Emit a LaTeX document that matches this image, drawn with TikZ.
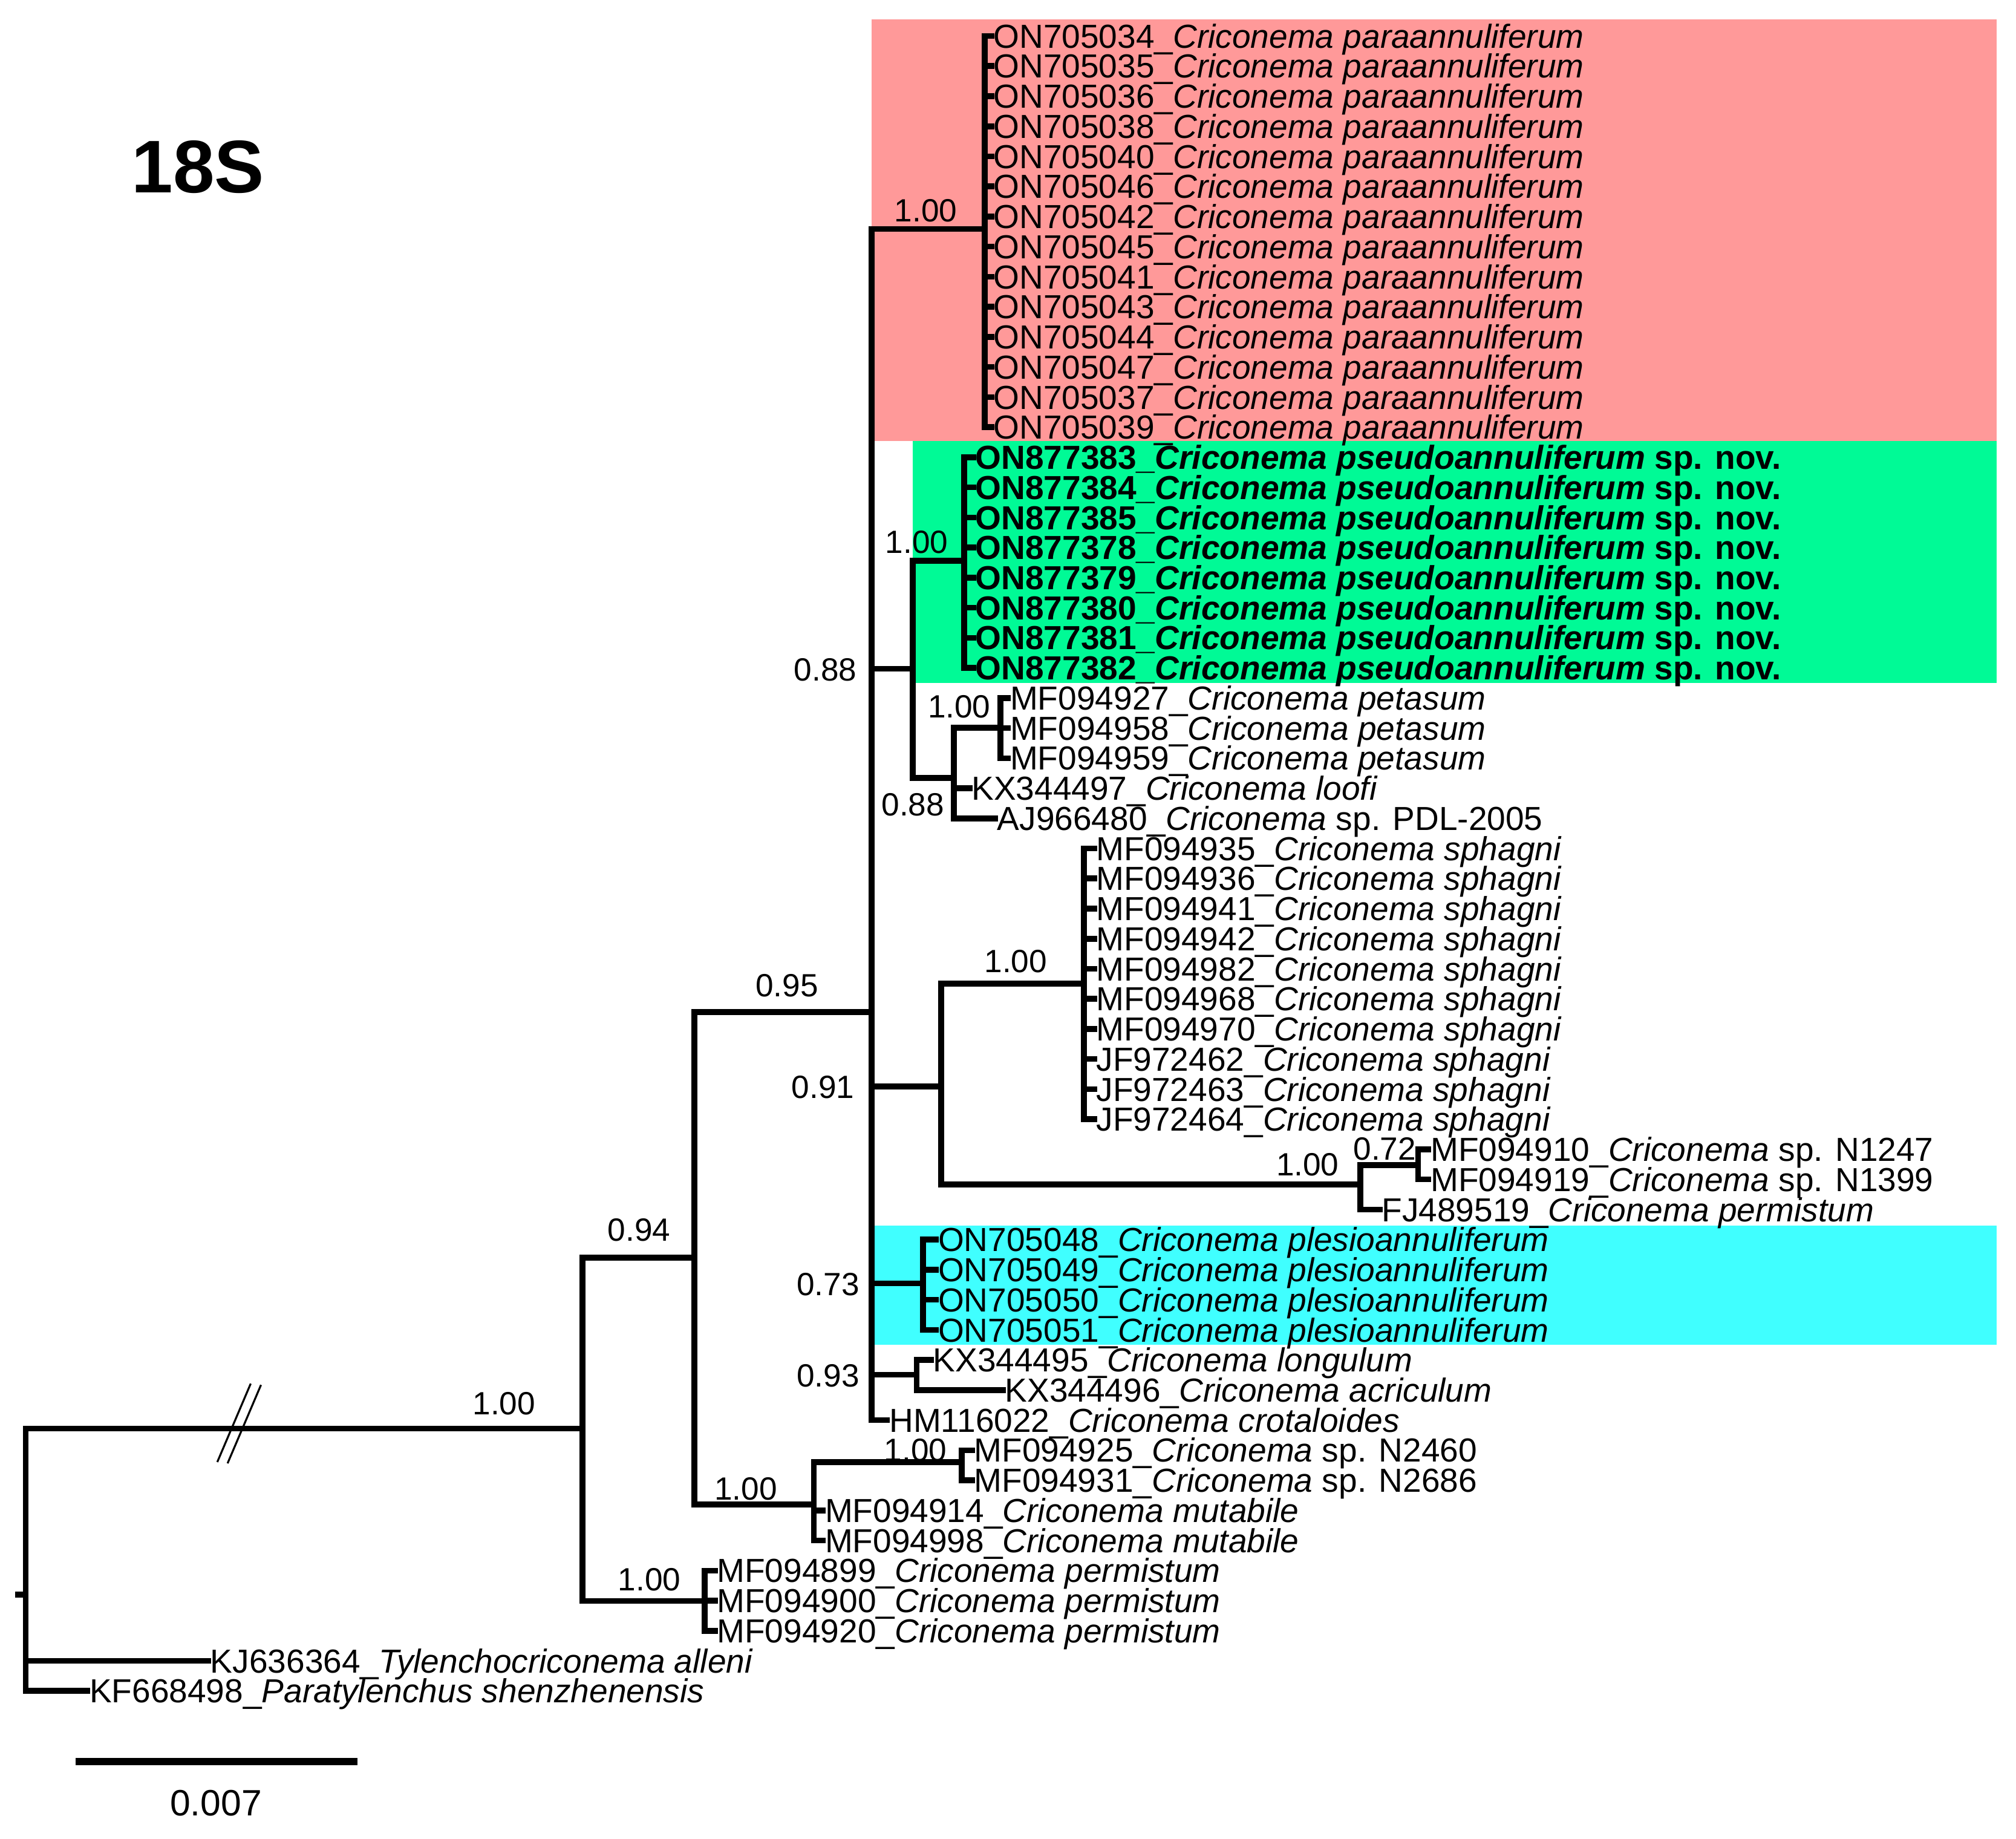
\documentclass[tikz,border=0pt]{standalone}
\usepackage{fontspec}
\setmainfont{Liberation Sans}
\definecolor{pinkbox}{RGB}{255,153,153}
\definecolor{greenbox}{RGB}{0,250,150}
\definecolor{cyanbox}{RGB}{64,255,255}
\newcommand{\tipfont}{\fontsize{25.9}{30}\selectfont}
\newcommand{\suppfont}{\fontsize{25}{30}\selectfont}
\newcommand{\tipl}[5]{%
  \coordinate (#1) at (#3,{28+23.4*#4});
  \draw[br] (#2) |- (#1);
  \node[tiplab] (#1l) at (#1) {#5};
}
\newcommand{\Cp}{\textit{Criconema paraannuliferum}}
\newcommand{\Cps}{\textit{Criconema pseudoannuliferum} sp. nov.}
\newcommand{\Cpl}{\textit{Criconema plesioannuliferum}}
\newcommand{\Csph}{\textit{Criconema sphagni}}
\newcommand{\Cpet}{\textit{Criconema petasum}}
\newcommand{\Cper}{\textit{Criconema permistum}}
\newcommand{\Cmut}{\textit{Criconema mutabile}}
\begin{document}
\begin{tikzpicture}[x=1pt,y=-1pt,
  br/.style={line width=4.5pt,line cap=rect},
  tiplab/.style={anchor=west,inner xsep=1.5pt,inner ysep=0pt,text height=18.5pt,text depth=0pt,font=\tipfont},
  supp/.style={anchor=center,inner sep=0pt,text height=18.5pt,text depth=0pt,font=\suppfont}]
\useasboundingbox (0,0) rectangle (1568,1430);
% highlight boxes
\fill[pinkbox] (678,15) rectangle (1553,343);
\fill[greenbox] (710,343) rectangle (1553,531);
\fill[cyanbox] (678,953) rectangle (1553,1046);
% title
\node[font=\fontsize{58}{60}\selectfont\bfseries] (title) at (154,130) {18S};
% internal nodes
\coordinate (R0) at (14,1240);
\coordinate (R) at (20,1240);
\coordinate (nA) at (453,1111);
\coordinate (nB) at (540,978);
\coordinate (nC) at (678,787);
\coordinate (nPink) at (766,178);
\coordinate (nGP) at (710,520);
\coordinate (nGreen) at (750,436);
\coordinate (nPL) at (742,605);
\coordinate (nPet) at (778,566);
\coordinate (nSN) at (732,845);
\coordinate (nSph) at (843,765);
\coordinate (nN) at (1058,921);
\coordinate (nN2) at (1103,906);
\coordinate (nPles) at (718,998);
\coordinate (nLong) at (713,1069);
\coordinate (nMut) at (633,1170);
\coordinate (nNN) at (748,1137);
\coordinate (nPerm) at (548,1245);
% internal branches
\draw[br] (R0) -- (R);
\draw[br] (R) |- (nA);
\draw[br] (nA) |- (nB);
\draw[br] (nA) |- (nPerm);
\draw[br] (nB) |- (nC);
\draw[br] (nB) |- (nMut);
\draw[br] (nC) |- (nPink);
\draw[br] (nC) |- (nGP);
\draw[br] (nC) |- (nSN);
\draw[br] (nC) |- (nPles);
\draw[br] (nC) |- (nLong);
\draw[br] (nGP) |- (nGreen);
\draw[br] (nGP) |- (nPL);
\draw[br] (nPL) |- (nPet);
\draw[br] (nSN) |- (nSph);
\draw[br] (nSN) |- (nN);
\draw[br] (nN) |- (nN2);
\draw[br] (nMut) |- (nNN);
% tips
\tipl{t0}{nPink}{771}{0}{ON705034\_\Cp}
\tipl{t1}{nPink}{771}{1}{ON705035\_\Cp}
\tipl{t2}{nPink}{771}{2}{ON705036\_\Cp}
\tipl{t3}{nPink}{771}{3}{ON705038\_\Cp}
\tipl{t4}{nPink}{771}{4}{ON705040\_\Cp}
\tipl{t5}{nPink}{771}{5}{ON705046\_\Cp}
\tipl{t6}{nPink}{771}{6}{ON705042\_\Cp}
\tipl{t7}{nPink}{771}{7}{ON705045\_\Cp}
\tipl{t8}{nPink}{771}{8}{ON705041\_\Cp}
\tipl{t9}{nPink}{771}{9}{ON705043\_\Cp}
\tipl{t10}{nPink}{771}{10}{ON705044\_\Cp}
\tipl{t11}{nPink}{771}{11}{ON705047\_\Cp}
\tipl{t12}{nPink}{771}{12}{ON705037\_\Cp}
\tipl{t13}{nPink}{771}{13}{ON705039\_\Cp}
\tipl{t14}{nGreen}{757}{14}{\textbf{ON877383\_\Cps}}
\tipl{t15}{nGreen}{757}{15}{\textbf{ON877384\_\Cps}}
\tipl{t16}{nGreen}{757}{16}{\textbf{ON877385\_\Cps}}
\tipl{t17}{nGreen}{757}{17}{\textbf{ON877378\_\Cps}}
\tipl{t18}{nGreen}{757}{18}{\textbf{ON877379\_\Cps}}
\tipl{t19}{nGreen}{757}{19}{\textbf{ON877380\_\Cps}}
\tipl{t20}{nGreen}{757}{20}{\textbf{ON877381\_\Cps}}
\tipl{t21}{nGreen}{757}{21}{\textbf{ON877382\_\Cps}}
\tipl{t22}{nPet}{784}{22}{MF094927\_\Cpet}
\tipl{t23}{nPet}{784}{23}{MF094958\_\Cpet}
\tipl{t24}{nPet}{784}{24}{MF094959\_\Cpet}
\tipl{t25}{nPL}{754}{25}{KX344497\_\textit{Criconema loofi}}
\tipl{t26}{nPL}{774}{26}{AJ966480\_\textit{Criconema} sp. PDL-2005}
\tipl{t27}{nSph}{851}{27}{MF094935\_\Csph}
\tipl{t28}{nSph}{851}{28}{MF094936\_\Csph}
\tipl{t29}{nSph}{851}{29}{MF094941\_\Csph}
\tipl{t30}{nSph}{851}{30}{MF094942\_\Csph}
\tipl{t31}{nSph}{851}{31}{MF094982\_\Csph}
\tipl{t32}{nSph}{851}{32}{MF094968\_\Csph}
\tipl{t33}{nSph}{851}{33}{MF094970\_\Csph}
\tipl{t34}{nSph}{851}{34}{JF972462\_\Csph}
\tipl{t35}{nSph}{851}{35}{JF972463\_\Csph}
\tipl{t36}{nSph}{851}{36}{JF972464\_\Csph}
\tipl{t37}{nN2}{1111}{37}{MF094910\_\textit{Criconema} sp. N1247}
\tipl{t38}{nN2}{1111}{38}{MF094919\_\textit{Criconema} sp. N1399}
\tipl{t39}{nN}{1073}{39}{FJ489519\_\Cper}
\tipl{t40}{nPles}{728}{40}{ON705048\_\Cpl}
\tipl{t41}{nPles}{728}{41}{ON705049\_\Cpl}
\tipl{t42}{nPles}{728}{42}{ON705050\_\Cpl}
\tipl{t43}{nPles}{728}{43}{ON705051\_\Cpl}
\tipl{t44}{nLong}{724}{44}{KX344495\_\textit{Criconema longulum}}
\tipl{t45}{nLong}{780}{45}{KX344496\_\textit{Criconema acriculum}}
\tipl{t46}{nC}{690}{46}{HM116022\_\textit{Criconema crotaloides}}
\tipl{t47}{nNN}{756}{47}{MF094925\_\textit{Criconema} sp. N2460}
\tipl{t48}{nNN}{756}{48}{MF094931\_\textit{Criconema} sp. N2686}
\tipl{t49}{nMut}{640}{49}{MF094914\_\Cmut}
\tipl{t50}{nMut}{640}{50}{MF094998\_\Cmut}
\tipl{t51}{nPerm}{556}{51}{MF094899\_\Cper}
\tipl{t52}{nPerm}{556}{52}{MF094900\_\Cper}
\tipl{t53}{nPerm}{556}{53}{MF094920\_\Cper}
\tipl{t54}{R}{162}{54}{KJ636364\_\textit{Tylenchocriconema alleni}}
\tipl{t55}{R}{68}{55}{KF668498\_\textit{Paratylenchus shenzhenensis}}
% support values
\node[supp] (sPink) at (720,163) {1.00};
\node[supp] (sGreen) at (713,421) {1.00};
\node[supp] (sGP) at (642,520) {0.88};
\node[supp] (sPL) at (710,625) {0.88};
\node[supp] (sPet) at (746,549) {1.00};
\node[supp] (sC) at (612,766) {0.95};
\node[supp] (sSN) at (640,845) {0.91};
\node[supp] (sSph) at (790,747) {1.00};
\node[supp] (sN) at (1017,905) {1.00};
\node[supp] (sN2) at (1077,893) {0.72};
\node[supp] (sPles) at (644,998) {0.73};
\node[supp] (sLong) at (644,1069) {0.93};
\node[supp] (sB) at (497,956) {0.94};
\node[supp] (sA) at (392,1091) {1.00};
\node[supp] (sMut) at (580,1157) {1.00};
\node[supp] (sNN) at (712,1127) {1.00};
\node[supp] (sPerm) at (505,1228) {1.00};
% break mark
\draw[line width=1.5pt] (169,1137) -- (195,1076);
\draw[line width=1.5pt] (177,1138) -- (203,1077);
% scale bar
\coordinate (sb1) at (59,1370);
\coordinate (sb2) at (278,1370);
\draw[line width=5.5pt] (sb1) -- (sb2);
\node[supp,font=\fontsize{28.5}{32}\selectfont,text height=20.5pt] (sblab) at (168,1402) {0.007};
\end{tikzpicture}
\end{document}
